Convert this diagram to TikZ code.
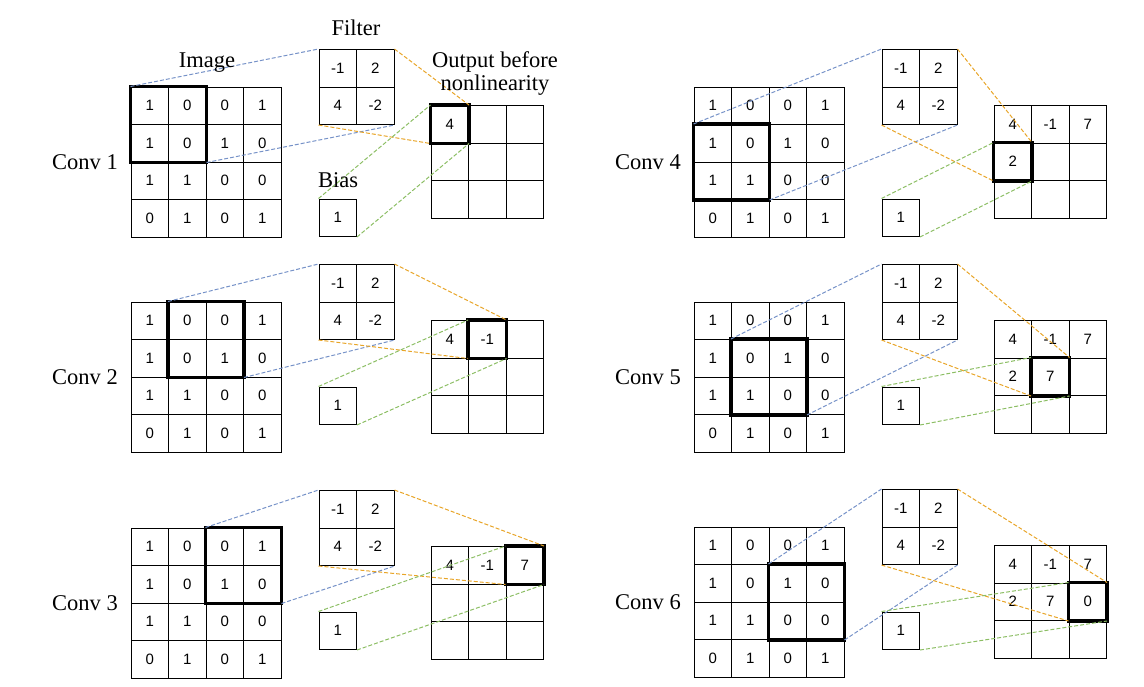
\documentclass[tikz,border=0pt]{standalone}
\usepackage{fontspec}
\setmainfont{Liberation Serif}
\newfontfamily\numfont{Liberation Sans}
\definecolor{cblue}{RGB}{118,146,200}
\definecolor{corange}{RGB}{232,165,40}
\definecolor{cgreen}{RGB}{140,190,100}
\tikzset{
  cell/.style={draw, line width=1pt, minimum size=37.5pt, inner sep=0pt,
               font=\numfont\fontsize{15}{15}\selectfont},
  hilite/.style={draw, line width=3.5pt},
  linkbase/.style={line width=1pt, dash pattern=on 4pt off 2pt},
  bluelink/.style={linkbase, draw=cblue},
  orangelink/.style={linkbase, draw=corange},
  greenlink/.style={linkbase, draw=cgreen},
  title/.style={font=\fontsize{22.5}{24}\selectfont, anchor=base, inner sep=0pt}
}
% #1 id, #2 ix, #3 iy, #4 bias dy, #5 window top-left cell, #6 window bottom-right cell,
% #7 output highlighted cell, #8 output values (9 items)
\newcommand\drawpanel[8]{%
\begin{scope}[shift={(#2,#3)}]
  \foreach \v [count=\k from 0] in {1,0,0,1,1,0,1,0,1,1,0,0,0,1,0,1} {
    \pgfmathtruncatemacro\ri{\k/4}
    \pgfmathtruncatemacro\ci{mod(\k,4)}
    \node[cell] (p#1i\ri\ci) at ({37.5*\ci+18.75},{37.5*\ri+18.75}) {\v};
  }
  \foreach \v [count=\k from 0] in {-1,2,4,-2} {
    \pgfmathtruncatemacro\ri{\k/2}
    \pgfmathtruncatemacro\ci{mod(\k,2)}
    \node[cell] (p#1f\ri\ci) at ({188+37.5*\ci+18.75},{-37.5+37.5*\ri+18.75}) {\v};
  }
  \node[cell] (p#1b) at ({188+18.75},{#4+18.75}) {1};
  \foreach \v [count=\k from 0] in {#8} {
    \pgfmathtruncatemacro\ri{\k/3}
    \pgfmathtruncatemacro\ci{mod(\k,3)}
    \node[cell] (p#1o\ri\ci) at ({300+37.5*\ci+18.75},{18.5+37.5*\ri+18.75}) {\v};
  }
  \node[title] (p#1lab) at (-46,82) {Conv #1};
\end{scope}
\draw[hilite] (p#1i#5.north west) rectangle (p#1i#6.south east);
\draw[hilite] (p#1o#7.north west) rectangle (p#1o#7.south east);
\draw[bluelink] (p#1i#5.north west) -- (p#1f00.north west);
\draw[bluelink] (p#1i#6.south east) -- (p#1f11.south east);
\draw[orangelink] (p#1f01.north east) -- (p#1o#7.north east);
\draw[orangelink] (p#1f10.south west) -- (p#1o#7.south west);
\draw[greenlink] (p#1b.north west) -- (p#1o#7.north west);
\draw[greenlink] (p#1b.south east) -- (p#1o#7.south east);
}
\begin{document}
\begin{tikzpicture}[x=1pt,y=-1pt]
\useasboundingbox (0,0) rectangle (1144,686);
\drawpanel{1}{131}{87}{112}{00}{11}{00}{4,{},{},{},{},{},{},{},{}}
\drawpanel{2}{131}{302}{85}{01}{12}{01}{4,-1,{},{},{},{},{},{},{}}
\drawpanel{3}{131}{528}{84}{02}{13}{02}{4,-1,7,{},{},{},{},{},{}}
\drawpanel{4}{694}{87}{112}{10}{21}{10}{4,-1,7,2,{},{},{},{},{}}
\drawpanel{5}{694}{302}{85}{11}{22}{11}{4,-1,7,2,7,{},{},{},{}}
\drawpanel{6}{694}{527}{85}{12}{23}{12}{4,-1,7,2,7,0,{},{},{}}
\node[title] (timage) at (207,67) {Image};
\node[title] (tfilter) at (356,35) {Filter};
\node[title] (toutA) at (495,67) {Output before};
\node[title] (toutB) at (495,90) {nonlinearity};
\node[title] (tbias) at (338,187) {Bias};
\end{tikzpicture}
\end{document}
